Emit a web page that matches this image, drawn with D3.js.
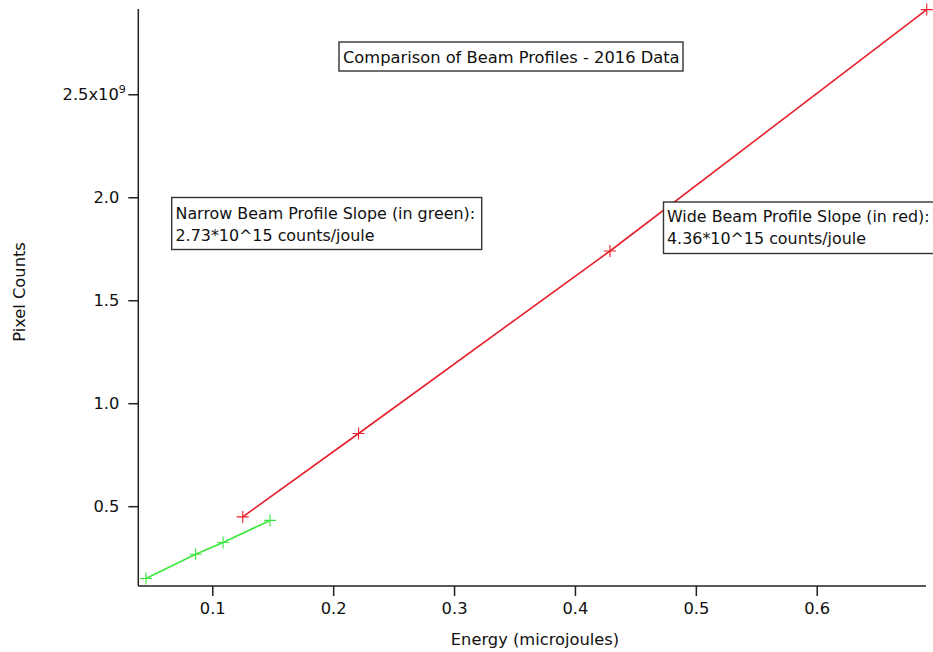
<!DOCTYPE html>
<html><head><meta charset="utf-8">
<script src="https://cdn.jsdelivr.net/npm/d3@7"></script>
<style>
html,body{margin:0;padding:0;background:#fff;}
svg{display:block;}
text{font-family:"DejaVu Sans",sans-serif;fill:#111;}
</style></head>
<body>
<svg id="chart" width="933" height="652"></svg>
<script>
// Data (y in units of 1e9 pixel counts, x in microjoules)
const narrowEnergy = [0.0451, 0.0862, 0.1089, 0.1478];
const narrowCounts = [0.149, 0.267, 0.324, 0.431];
const wideEnergy   = [0.1252, 0.221, 0.429, 0.691];
const wideCounts   = [0.448, 0.853, 1.739, 2.911];
const xTicks = [0.1, 0.2, 0.3, 0.4, 0.5, 0.6];
const yTicks = [0.5, 1.0, 1.5, 2.0, 2.5];
const yTickLabels = ["0.5", "1.0", "1.5", "2.0", "2.5x10"];
const titleText = "Comparison of Beam Profiles - 2016 Data";
const narrowNote = ["Narrow Beam Profile Slope (in green):", "2.73*10^15 counts/joule"];
const wideNote = ["Wide Beam Profile Slope (in red):", "4.36*10^15 counts/joule"];
const xLabel = "Energy (microjoules)";
const yLabel = "Pixel Counts";

const svg = d3.select("#chart");
const FS = 16.3;
const NOTE_FS = 15.9;

const x = d3.scaleLinear().domain([0.0388, 0.6904]).range([138.3, 926]);
const y = d3.scaleLinear().domain([0.1125, 2.914]).range([586, 9]);

// Axes
const xAxis = d3.axisBottom(x).tickValues(xTicks).tickSize(10).tickPadding(6)
  .tickFormat(d3.format(".1f"));
const gx = svg.append("g").attr("transform", "translate(0,586)").call(xAxis);
const yAxis = d3.axisLeft(y).tickValues(yTicks).tickSize(10).tickPadding(9)
  .tickFormat((d, i) => yTickLabels[i]);
const gy = svg.append("g").attr("transform", "translate(138.3,0)").call(yAxis);

[gx, gy].forEach(g => {
  g.select(".domain").attr("stroke", "#222").attr("stroke-width", 1.5);
  g.selectAll(".tick line").attr("stroke", "#222").attr("stroke-width", 1.5);
  g.selectAll(".tick text").style("font-family", '"DejaVu Sans",sans-serif')
    .style("font-size", FS + "px").attr("fill", "#111");
});
gx.select(".domain").attr("d", `M${x.range()[0]},0H${x.range()[1]}`);
gy.select(".domain").attr("d", `M0,${y.range()[0]}V${y.range()[1]}`);
// superscript 9
const topLabel = gy.selectAll(".tick text").filter((d, i) => i === 4);
topLabel.append("tspan").attr("dy", "-0.6em").style("font-size", (FS * 0.68) + "px").text("9");
topLabel.attr("dx", "0.4em");

// Axis labels
svg.append("text").attr("x", 535).attr("y", 645).attr("text-anchor", "middle")
  .style("font-size", FS + "px").text(xLabel);
svg.append("text").attr("transform", "translate(25,292) rotate(-90)").attr("text-anchor", "middle")
  .style("font-size", FS + "px").text(yLabel);

// Series
const series = [
  {ex: narrowEnergy, cy: narrowCounts, color: "#3ce63c"},
  {ex: wideEnergy, cy: wideCounts, color: "#e8202c"}
];
const line = d3.line().x(d => x(d[0])).y(d => y(d[1]));
series.forEach(s => {
  const pts = s.ex.map((e, i) => [e, s.cy[i]]);
  svg.append("path").datum(pts).attr("d", line).attr("fill", "none")
    .attr("stroke", s.color).attr("stroke-width", 1.6);
  const m = 6;
  svg.append("g").selectAll("path").data(pts).join("path")
    .attr("d", d => `M${x(d[0]) - m},${y(d[1])}H${x(d[0]) + m}M${x(d[0])},${y(d[1]) - m}V${y(d[1]) + m}`)
    .attr("stroke", s.color).attr("stroke-width", 1.1).attr("fill", "none");
});

// Annotation boxes
function box(x0, y0, w, h, lines, tx, baselines, fs) {
  svg.append("rect").attr("x", x0).attr("y", y0).attr("width", w).attr("height", h)
    .attr("fill", "#fff").attr("stroke", "#333").attr("stroke-width", 1.4);
  lines.forEach((t, i) => {
    svg.append("text").attr("x", tx).attr("y", baselines[i]).style("font-size", fs + "px").text(t);
  });
}
box(339, 42, 344, 29, [titleText], 343, [63], FS);
box(171.7, 197.5, 310, 52, narrowNote, 175.5, [219, 241], NOTE_FS);
box(663.5, 202, 290, 51.5, wideNote, 667, [222, 244], NOTE_FS);
</script>
</body></html>
